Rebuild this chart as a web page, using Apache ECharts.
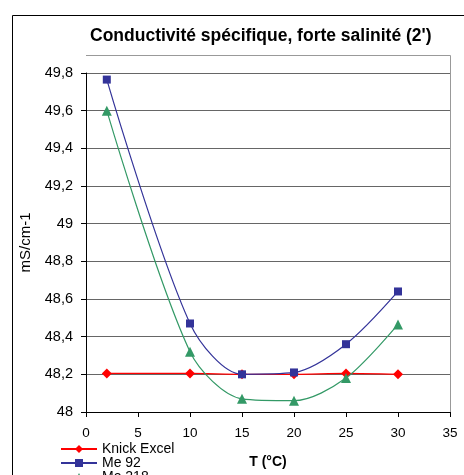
<!DOCTYPE html>
<html><head><meta charset="utf-8">
<script src="https://cdn.jsdelivr.net/npm/echarts@6/dist/echarts.min.js"></script>
<style>html,body{margin:0;padding:0;background:#fff}#c{width:464px;height:475px}</style>
</head><body><div id="c"></div>
<script>
const temps = [2, 10, 15, 20, 25, 30];
const knickExcel = [48.205, 48.205, 48.2, 48.2, 48.205, 48.2];
const me92 = [49.765, 48.47, 48.2, 48.21, 48.36, 48.64];
const me218 = [49.6, 48.32, 48.07, 48.06, 48.18, 48.465];
const seriesNames = ['Knick Excel', 'Me 92', 'Me 218'];
const xTicks = [0, 5, 10, 15, 20, 25, 30, 35];
const yTicks = [48, 48.2, 48.4, 48.6, 48.8, 49, 49.2, 49.4, 49.6, 49.8];

const pair = arr => temps.map((t, i) => [t, arr[i]]);
const font = '"Liberation Sans", Arial, sans-serif';
const chart = echarts.init(document.getElementById('c'), null, {renderer: 'canvas'});
chart.setOption({
  animation: false,
  title: {
    text: 'Conductivité spécifique, forte salinité (2\')',
    left: 90, top: 27, padding: 0,
    textStyle: {fontFamily: font, fontSize: 17.5, fontWeight: 'bold', color: '#000'}
  },
  graphic: [
    {type: 'rect', shape: {x: 12.5, y: 15.5, width: 460, height: 470}, style: {fill: 'none', stroke: '#000', lineWidth: 1}, silent: true},
    {type: 'polyline', shape: {points: [[86, 55.5], [450.5, 55.5], [450.5, 412]]}, style: {fill: 'none', stroke: '#999', lineWidth: 1}, silent: true, z: 0}
  ],
  legend: {
    orient: 'vertical', left: 60, top: 442, height: 80, padding: 0,
    itemWidth: 36, itemHeight: 10, itemGap: 0,
    textStyle: {fontFamily: font, fontSize: 14, lineHeight: 14, color: '#000'},
    data: seriesNames
  },
  grid: {left: 86, right: 14, top: 73, bottom: 63, containLabel: false},
  xAxis: {
    type: 'value', min: 0, max: 35, interval: 5,
    name: 'T (°C)', nameLocation: 'middle', nameGap: 43,
    nameTextStyle: {fontFamily: font, fontSize: 14, fontWeight: 'bold', color: '#000'},
    axisLine: {lineStyle: {color: '#000'}},
    axisTick: {show: true, length: 5, lineStyle: {color: '#000'}},
    axisLabel: {fontFamily: font, fontSize: 13.5, color: '#000', margin: 14,
      formatter: v => xTicks.includes(v) ? String(v) : ''},
    splitLine: {show: false}
  },
  yAxis: {
    type: 'value', min: 48, max: 49.8, interval: 0.2,
    name: 'mS/cm-1', nameLocation: 'middle', nameGap: 53, nameRotate: 90,
    nameTextStyle: {fontFamily: font, fontSize: 15, color: '#000'},
    axisLine: {show: true, lineStyle: {color: '#000'}},
    axisTick: {show: true, length: 5, lineStyle: {color: '#000'}},
    axisLabel: {fontFamily: font, fontSize: 14.5, color: '#000', margin: 13,
      formatter: v => {
        const t = yTicks.find(y => Math.abs(y - v) < 1e-6);
        return t === undefined ? '' : String(t).replace('.', ',');
      }},
    splitLine: {show: true, lineStyle: {color: '#666', width: 1}}
  },
  series: [
    {name: seriesNames[0], type: 'line', data: pair(knickExcel), smooth: 0.3,
      symbol: 'diamond', symbolSize: 10, color: '#FF0000',
      lineStyle: {width: 1.3, color: '#FF0000'}, itemStyle: {color: '#FF0000'}, z: 3},
    {name: seriesNames[1], type: 'line', data: pair(me92), smooth: 0.3,
      symbol: 'rect', symbolSize: 8, color: '#333399',
      lineStyle: {width: 1.2, color: '#333399'}, itemStyle: {color: '#333399'}, z: 4},
    {name: seriesNames[2], type: 'line', data: pair(me218), smooth: 0.3,
      symbol: 'triangle', symbolSize: 10, color: '#339966',
      lineStyle: {width: 1.2, color: '#339966'}, itemStyle: {color: '#339966'}, z: 5}
  ]
});
</script></body></html>
